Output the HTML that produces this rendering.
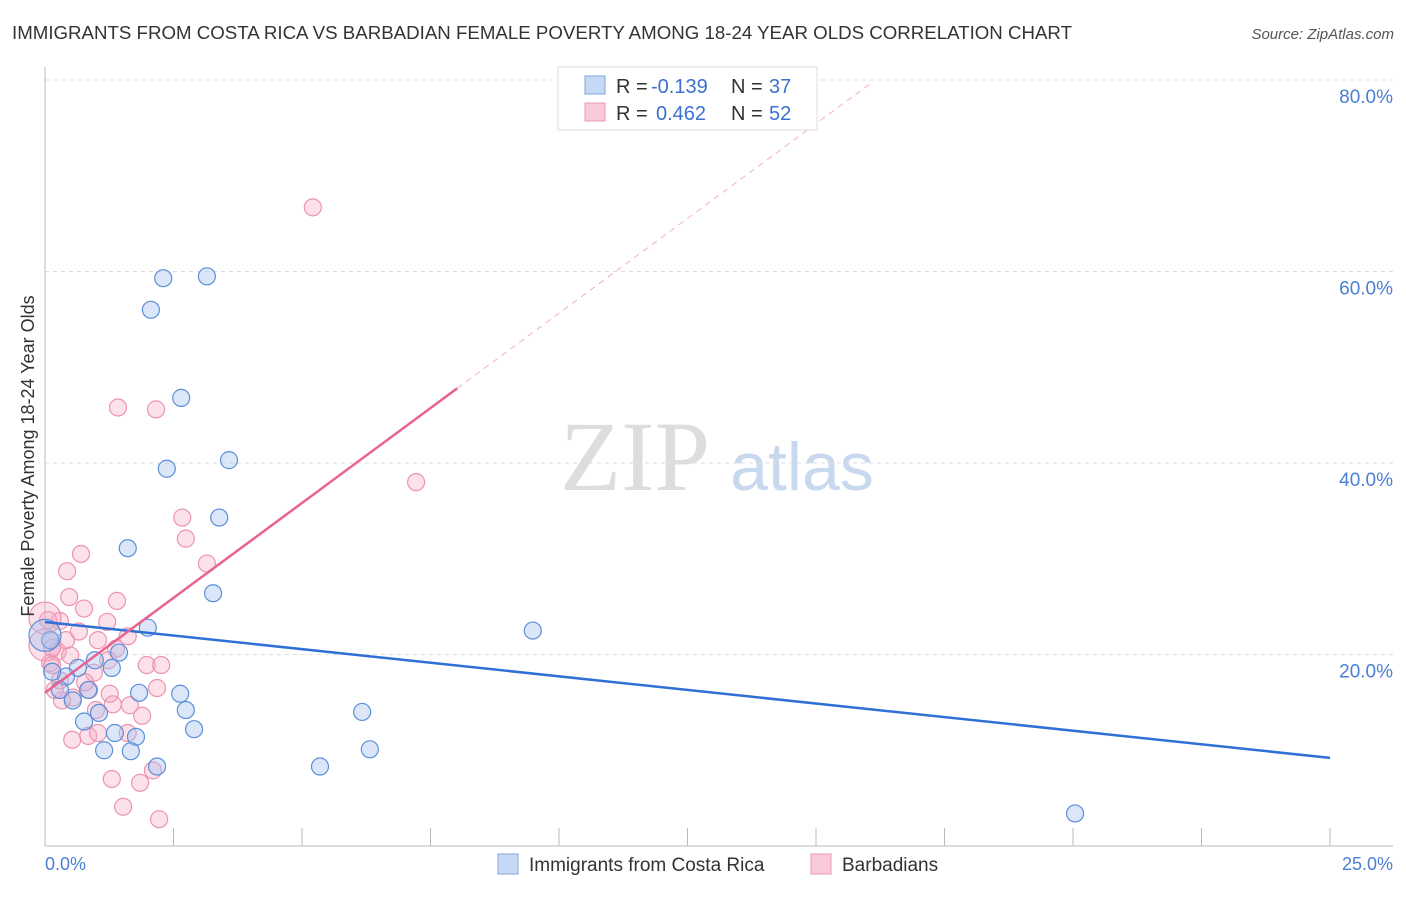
<!DOCTYPE html>
<html><head><meta charset="utf-8"><style>
body{margin:0;background:#fff;font-family:"Liberation Sans",sans-serif}
</style></head><body>
<svg width="1406" height="892" viewBox="0 0 1406 892" font-family="Liberation Sans, sans-serif">
<text x="12" y="39" font-size="18" fill="#333" textLength="1060" lengthAdjust="spacingAndGlyphs">IMMIGRANTS FROM COSTA RICA VS BARBADIAN FEMALE POVERTY AMONG 18-24 YEAR OLDS CORRELATION CHART</text>
<text x="1394" y="39" font-size="15" fill="#555" font-style="italic" text-anchor="end">Source: ZipAtlas.com</text>
<text x="635" y="490" font-size="100" fill="#ddd" style="font-family:'Liberation Serif',serif" text-anchor="middle">ZIP</text>
<text x="802" y="490" font-size="68" fill="#c8d8ee" text-anchor="middle">atlas</text>
<g id="grid"></g><g id="axes"></g><g id="marks"></g>
<text transform="translate(34,456) rotate(-90)" font-size="18" fill="#333" text-anchor="middle">Female Poverty Among 18-24 Year Olds</text>
<text x="45" y="870" font-size="18" fill="#4a7fd4">0.0%</text>
<text x="1393" y="870" font-size="18" fill="#4a7fd4" text-anchor="end">25.0%</text>
<g>
<rect x="558" y="67" width="259" height="63" fill="#fff" stroke="#ddd"/>
<rect x="585" y="76" width="20" height="18" fill="#c5d9f5" stroke="#7ea6e0"/>
<rect x="585" y="103" width="20" height="18" fill="#f9cad8" stroke="#eb9ab3"/>
<text x="616" y="93" font-size="20" fill="#333">R =</text>
<text x="651" y="93" font-size="20" fill="#3a70d0">-0.139</text>
<text x="731" y="93" font-size="20" fill="#333">N =</text>
<text x="769" y="93" font-size="20" fill="#3a70d0">37</text>
<text x="616" y="120" font-size="20" fill="#333">R =</text>
<text x="656" y="120" font-size="20" fill="#3a70d0">0.462</text>
<text x="731" y="120" font-size="20" fill="#333">N =</text>
<text x="769" y="120" font-size="20" fill="#3a70d0">52</text>
</g>
<g>
<rect x="498" y="854" width="20" height="20" fill="#c5d9f5" stroke="#7ea6e0"/>
<text x="529" y="871" font-size="19" fill="#333">Immigrants from Costa Rica</text>
<rect x="811" y="854" width="20" height="20" fill="#f9cad8" stroke="#eb9ab3"/>
<text x="842" y="871" font-size="19" fill="#333">Barbadians</text>
</g>
</svg>
<script>
const yTicks=[20,40,60,80];
const yTickLabels=["20.0%","40.0%","60.0%","80.0%"];
const xTicks=[0,2.5,5,7.5,10,12.5,15,17.5,20,22.5,25];
const blueX=[2.30,3.15,2.06,2.65,2.37,3.58,3.39,1.61,3.27,2.00,9.49,1.44,1.30,0.97,0.64,0.41,0.14,0.10,0.76,1.05,0.54,1.83,2.63,2.74,2.90,1.36,1.77,1.15,1.67,2.18,5.35,6.32,6.17,20.04,0.29,0.84,0];
const blueY=[59.3,59.5,56.0,46.8,39.4,40.3,34.3,31.1,26.4,22.8,22.5,20.2,18.6,19.4,18.6,17.7,18.2,21.5,13.0,13.9,15.2,16.0,15.9,14.2,12.2,11.8,11.4,10.0,9.9,8.3,8.3,10.1,14.0,3.4,16.3,16.3,22.0];
const pinkX=[5.21,1.42,2.16,7.22,2.67,2.74,0.70,3.15,0.43,1.40,0.47,0.76,0.29,1.21,0.66,1.03,1.61,0.06,0.14,0.25,0.49,1.38,1.98,2.26,0.10,0.95,0.29,0.86,1.26,2.18,0.54,0.33,0.99,1.32,1.89,0.53,0.84,1.03,1.61,1.30,1.85,1.52,2.22,2.10,0,0,0.14,0.19,0.78,1.23,0.41,1.65];
const pinkY=[66.7,45.8,45.6,38.0,34.3,32.1,30.5,29.5,28.7,25.6,26.0,24.8,23.5,23.4,22.4,21.5,21.9,23.6,20.7,20.3,19.9,20.6,18.9,18.9,19.1,18.1,17.3,16.3,15.9,16.5,15.5,15.2,14.2,14.8,13.6,11.1,11.5,11.8,11.8,7.0,6.6,4.1,2.8,7.9,23.8,21.0,18.9,16.3,17.1,19.4,21.5,14.7];
const blueLine=[[0,23.4],[25,9.2]];
const pinkLine=[[0,16.0],[8.02,47.8]];
const pinkDash=[[8.02,47.8],[16.05,79.6]];
const NS="http://www.w3.org/2000/svg";
const X=v=>45+v/25*1285, Y=v=>846-v/20*191.5;
function mk(t,a,p){const e=document.createElementNS(NS,t);for(const k in a)e.setAttribute(k,a[k]);document.getElementById(p).appendChild(e);return e;}
yTicks.forEach((t,i)=>{
 const g=mk('line',{x1:45,x2:1393,y1:Y(t),y2:Y(t),stroke:'#ddd','stroke-dasharray':'4,4'},'grid');
 
 
 const l=mk('text',{x:1393,y:Y(t)+23,'font-size':19,fill:'#4a7fd4','text-anchor':'end'},'grid');
 l.textContent=yTickLabels[i];
 
 
});
let ax=mk('line',{x1:45,x2:45,y1:67,y2:846,stroke:'#bbb'},'axes');


ax=mk('line',{x1:45,x2:1393,y1:846,y2:846,stroke:'#bbb'},'axes');


xTicks.forEach(t=>{const k=mk('line',{x1:X(t),x2:X(t),y1:828,y2:846,stroke:'#bbb'},'axes');
 
 });
function dots(xs,ys,fill,stroke,name){xs.forEach((x,i)=>{
 const r=(x===0)?16:8.5;
 const c=mk('circle',{cx:X(x),cy:Y(ys[i]),r:r,fill:fill,stroke:stroke,'stroke-width':1.2},'marks');
 
 });}
dots(pinkX,pinkY,'rgba(245,170,195,0.35)','#ec94b0','barbadian-point');
dots(blueX,blueY,'rgba(160,192,240,0.38)','#5b8fd9','costa-rica-point');
function ln(p,stroke,w,dash,name){const e=mk('line',{x1:X(p[0][0]),y1:Y(p[0][1]),x2:X(p[1][0]),y2:Y(p[1][1]),stroke:stroke,'stroke-width':w},'marks');
 if(dash)e.setAttribute('stroke-dasharray',dash);
 
 }
ln(blueLine,'#2f6fd6',2.5,null,'costa-rica-trendline');
ln(pinkLine,'#e8638f',2.5,null,'barbadian-trendline');
ln(pinkDash,'#f0b0c4',1,'6,5','barbadian-trendline-extension');
</script>
</body></html>
